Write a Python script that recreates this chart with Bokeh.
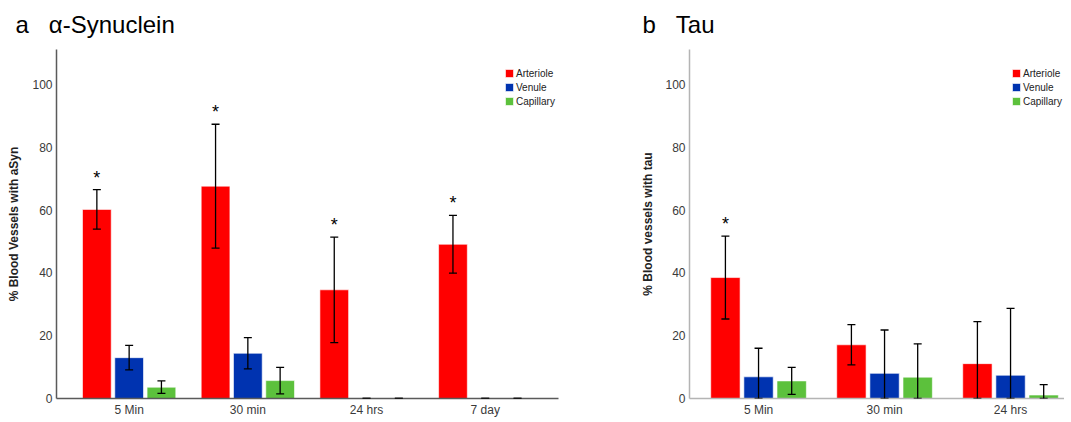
import numpy as np
from bokeh.plotting import figure
from bokeh.layouts import row
from bokeh.models import (ColumnDataSource, Whisker, Range1d, FixedTicker, Legend,
                          LegendItem, TeeHead)
from bokeh.transform import dodge
from bokeh.embed import file_html
from bokeh.resources import INLINE

FONT = "Liberation Sans"
NB = "\u00a0"

series = ["Arteriole", "Venule", "Capillary"]
colors = ["#ff0000", "#0033b0", "#5cc13c"]

# Panel a: alpha-Synuclein
a_cats = ["5 Min", "30 min", "24 hrs", "7 day"]
a_arteriole = [60.2, 67.6, 34.6, 49.1]
a_arteriole_err = [6.3, 19.7, 16.8, 9.2]
a_venule = [13.0, 14.4, 0.0, 0.0]
a_venule_err = [3.9, 5.0, 0.0, 0.0]
a_capillary = [3.6, 5.7, 0.0, 0.0]
a_capillary_err = [2.0, 4.2, 0.0, 0.0]
a_arteriole_sig = ["*", "*", "*", "*"]

# Panel b: Tau
b_cats = ["5 Min", "30 min", "24 hrs"]
b_arteriole = [38.5, 17.1, 11.1]
b_arteriole_err = [13.2, 6.4, 13.4]
b_venule = [6.9, 8.0, 7.4]
b_venule_err = [9.1, 13.8, 21.3]
b_capillary = [5.6, 6.8, 1.1]
b_capillary_err = [4.3, 10.6, 3.3]
b_arteriole_sig = ["*", "", ""]

y_ticks = [0, 20, 40, 60, 80, 100]
Y_MAX = 111.1


def make_panel(title, ylabel, cats, vals, errs, sig, frame_w, border_l, border_r,
               x_start, px_per_unit, bar_w, bar_step, axis_color, title_offset,
               legend_xy, label_standoff):
    frame_h = 349
    x_end = x_start + frame_w / px_per_unit
    p = figure(frame_width=frame_w, frame_height=frame_h,
               min_border_left=border_l, min_border_right=border_r,
               min_border_top=49, min_border_bottom=20,
               x_range=Range1d(x_start, x_end), y_range=Range1d(0, Y_MAX),
               output_backend="svg", toolbar_location=None, tools="")
    p.outline_line_color = None
    p.xgrid.visible = False
    p.ygrid.visible = False
    p.background_fill_color = "white"

    p.title.text = title
    p.title.text_font = FONT
    p.title.text_font_size = "24px"
    p.title.text_font_style = "normal"
    p.title.text_color = "black"
    p.title.offset = title_offset
    p.title.standoff = 20
    p.title.vertical_align = "top"

    idx = list(range(len(cats)))
    items = []
    for k, (name, col) in enumerate(zip(series, colors)):
        m = vals[k]
        e = errs[k]
        src = ColumnDataSource(dict(
            x=idx, top=m,
            upper=[mi + ei for mi, ei in zip(m, e)],
            lower=[max(0.0, mi - ei) for mi, ei in zip(m, e)],
            star=sig if k == 0 else [""] * len(cats)))
        off = (k - 1) * bar_step
        r = p.vbar(x=dodge("x", off, range=p.x_range), top="top", width=bar_w,
                   bottom=0, source=src, fill_color=col, line_color="white",
                   line_alpha=0.6, line_width=1)
        w = Whisker(base=dodge("x", off, range=p.x_range), upper="upper", lower="lower",
                    source=src, line_color="black", line_width=1.3, level="annotation",
                    upper_head=TeeHead(size=8, line_color="black", line_width=1.3),
                    lower_head=TeeHead(size=8, line_color="black", line_width=1.3))
        p.add_layout(w)
        if k == 0:
            p.text(x=dodge("x", off, range=p.x_range), y="upper", text="star",
                   source=src, text_align="center", text_baseline="bottom",
                   text_font_size="18px", text_color="black", y_offset=-2)
        items.append(LegendItem(label=name, renderers=[r]))

    legend = Legend(items=items, location=legend_xy, glyph_width=10, glyph_height=10,
                    label_text_font_size="10px", label_text_font=FONT,
                    label_text_color="#222222", label_standoff=2, label_height=12,
                    spacing=2, padding=0, margin=0, border_line_color=None,
                    background_fill_alpha=0)
    p.add_layout(legend)

    # axes
    p.xaxis.ticker = FixedTicker(ticks=idx)
    p.xaxis.major_label_overrides = {i: c for i, c in enumerate(cats)}
    p.yaxis.ticker = FixedTicker(ticks=y_ticks)
    for ax in (p.xaxis[0], p.yaxis[0]):
        ax.axis_line_color = axis_color
        ax.axis_line_width = 1.5
        ax.major_tick_line_color = None
        ax.minor_tick_line_color = None
        ax.major_tick_out = 0
        ax.major_tick_in = 0
        ax.major_label_text_font = FONT
        ax.major_label_text_font_size = "12px"
        ax.major_label_text_color = "#3a3a3a"
        ax.major_label_standoff = 4
    p.xaxis.major_label_standoff = 4
    p.yaxis.axis_label = ylabel
    p.yaxis.axis_label_text_font = FONT
    p.yaxis.axis_label_text_font_size = "12px"
    p.yaxis.axis_label_text_font_style = "bold"
    p.yaxis.axis_label_text_color = "#222222"
    p.yaxis.axis_label_standoff = label_standoff
    return p


pa = make_panel("a" + NB * 3 + "α-Synuclein", "% Blood Vessels with aSyn", a_cats,
                [a_arteriole, a_venule, a_capillary],
                [a_arteriole_err, a_venule_err, a_capillary_err], a_arteriole_sig,
                frame_w=502, border_l=56, border_r=48, x_start=-0.612,
                px_per_unit=118.7, bar_w=0.242, bar_step=0.272,
                axis_color="#5a5a5a", title_offset=-41, legend_xy=(448, 291),
                label_standoff=8)

pb = make_panel("b" + NB * 3 + "Tau", "% Blood vessels with tau", b_cats,
                [b_arteriole, b_venule, b_capillary],
                [b_arteriole_err, b_venule_err, b_capillary_err], b_arteriole_sig,
                frame_w=375, border_l=83, border_r=0, x_start=-0.548,
                px_per_unit=126.0, bar_w=0.233, bar_step=0.263,
                axis_color="#b4b4b4", title_offset=-47, legend_xy=(322, 291),
                label_standoff=7)

layout = row(pa, pb)
open("out.html", "w").write(file_html(layout, INLINE))
